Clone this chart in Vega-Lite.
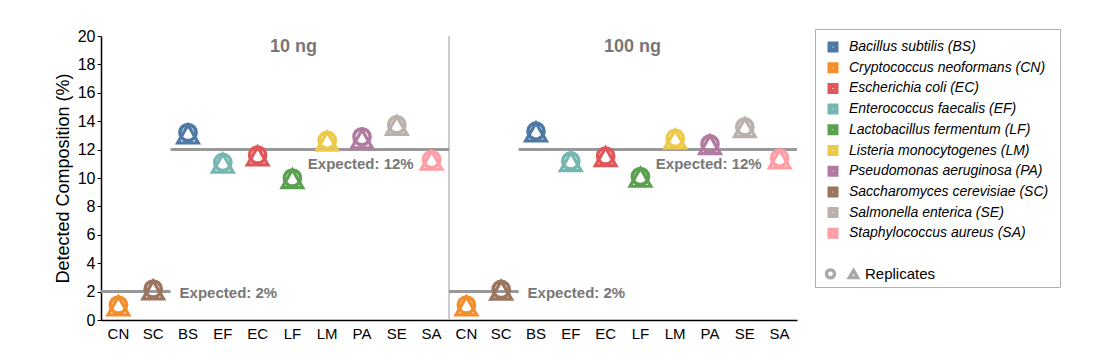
{
  "$schema": "https://vega.github.io/schema/vega-lite/v6.json",
  "autosize": "none",
  "width": 696,
  "height": 284,
  "padding": {"left": 101, "top": 36, "right": 315, "bottom": 40},
  "config": {
    "font": "Liberation Sans",
    "view": {"stroke": null}
  },
  "datasets": {
    "pts": [
      {"key": "10 ng|CN", "rep": "A", "value": 1.05, "species": "Cryptococcus neoformans (CN)"},
      {"key": "10 ng|CN", "rep": "B", "value": 1.0, "species": "Cryptococcus neoformans (CN)"},
      {"key": "10 ng|SC", "rep": "A", "value": 2.18, "species": "Saccharomyces cerevisiae (SC)"},
      {"key": "10 ng|SC", "rep": "B", "value": 2.12, "species": "Saccharomyces cerevisiae (SC)"},
      {"key": "10 ng|BS", "rep": "A", "value": 13.2, "species": "Bacillus subtilis (BS)"},
      {"key": "10 ng|BS", "rep": "B", "value": 13.1, "species": "Bacillus subtilis (BS)"},
      {"key": "10 ng|EF", "rep": "A", "value": 11.1, "species": "Enterococcus faecalis (EF)"},
      {"key": "10 ng|EF", "rep": "B", "value": 11.05, "species": "Enterococcus faecalis (EF)"},
      {"key": "10 ng|EC", "rep": "A", "value": 11.62, "species": "Escherichia coli (EC)"},
      {"key": "10 ng|EC", "rep": "B", "value": 11.55, "species": "Escherichia coli (EC)"},
      {"key": "10 ng|LF", "rep": "A", "value": 10.0, "species": "Lactobacillus fermentum (LF)"},
      {"key": "10 ng|LF", "rep": "B", "value": 9.95, "species": "Lactobacillus fermentum (LF)"},
      {"key": "10 ng|LM", "rep": "A", "value": 12.65, "species": "Listeria monocytogenes (LM)"},
      {"key": "10 ng|LM", "rep": "B", "value": 12.6, "species": "Listeria monocytogenes (LM)"},
      {"key": "10 ng|PA", "rep": "A", "value": 12.9, "species": "Pseudomonas aeruginosa (PA)"},
      {"key": "10 ng|PA", "rep": "B", "value": 12.75, "species": "Pseudomonas aeruginosa (PA)"},
      {"key": "10 ng|SE", "rep": "A", "value": 13.75, "species": "Salmonella enterica (SE)"},
      {"key": "10 ng|SE", "rep": "B", "value": 13.7, "species": "Salmonella enterica (SE)"},
      {"key": "10 ng|SA", "rep": "A", "value": 11.3, "species": "Staphylococcus aureus (SA)"},
      {"key": "10 ng|SA", "rep": "B", "value": 11.25, "species": "Staphylococcus aureus (SA)"},
      {"key": "100 ng|CN", "rep": "A", "value": 1.05, "species": "Cryptococcus neoformans (CN)"},
      {"key": "100 ng|CN", "rep": "B", "value": 1.0, "species": "Cryptococcus neoformans (CN)"},
      {"key": "100 ng|SC", "rep": "A", "value": 2.15, "species": "Saccharomyces cerevisiae (SC)"},
      {"key": "100 ng|SC", "rep": "B", "value": 2.1, "species": "Saccharomyces cerevisiae (SC)"},
      {"key": "100 ng|BS", "rep": "A", "value": 13.3, "species": "Bacillus subtilis (BS)"},
      {"key": "100 ng|BS", "rep": "B", "value": 13.25, "species": "Bacillus subtilis (BS)"},
      {"key": "100 ng|EF", "rep": "A", "value": 11.2, "species": "Enterococcus faecalis (EF)"},
      {"key": "100 ng|EF", "rep": "B", "value": 11.15, "species": "Enterococcus faecalis (EF)"},
      {"key": "100 ng|EC", "rep": "A", "value": 11.55, "species": "Escherichia coli (EC)"},
      {"key": "100 ng|EC", "rep": "B", "value": 11.5, "species": "Escherichia coli (EC)"},
      {"key": "100 ng|LF", "rep": "A", "value": 10.1, "species": "Lactobacillus fermentum (LF)"},
      {"key": "100 ng|LF", "rep": "B", "value": 10.05, "species": "Lactobacillus fermentum (LF)"},
      {"key": "100 ng|LM", "rep": "A", "value": 12.8, "species": "Listeria monocytogenes (LM)"},
      {"key": "100 ng|LM", "rep": "B", "value": 12.75, "species": "Listeria monocytogenes (LM)"},
      {"key": "100 ng|PA", "rep": "A", "value": 12.4, "species": "Pseudomonas aeruginosa (PA)"},
      {"key": "100 ng|PA", "rep": "B", "value": 12.35, "species": "Pseudomonas aeruginosa (PA)"},
      {"key": "100 ng|SE", "rep": "A", "value": 13.6, "species": "Salmonella enterica (SE)"},
      {"key": "100 ng|SE", "rep": "B", "value": 13.55, "species": "Salmonella enterica (SE)"},
      {"key": "100 ng|SA", "rep": "A", "value": 11.4, "species": "Staphylococcus aureus (SA)"},
      {"key": "100 ng|SA", "rep": "B", "value": 11.35, "species": "Staphylococcus aureus (SA)"}
    ]
  },
  "encoding": {
    "x": {
      "field": "key",
      "type": "nominal",
      "scale": {
        "type": "band",
        "paddingInner": 0,
        "paddingOuter": 0,
        "domain": ["10 ng|CN", "10 ng|SC", "10 ng|BS", "10 ng|EF", "10 ng|EC", "10 ng|LF", "10 ng|LM", "10 ng|PA", "10 ng|SE", "10 ng|SA",
                   "100 ng|CN", "100 ng|SC", "100 ng|BS", "100 ng|EF", "100 ng|EC", "100 ng|LF", "100 ng|LM", "100 ng|PA", "100 ng|SE", "100 ng|SA"]
      },
      "axis": {
        "title": null,
        "labelExpr": "split(datum.value, '|')[1]",
        "labelAngle": 0,
        "ticks": false,
        "labelPadding": 6,
        "labelFontSize": 15,
        "labelColor": "#000",
        "domainColor": "#000",
        "domainWidth": 1.5,
        "grid": false
      }
    },
    "y": {
      "field": "value",
      "type": "quantitative",
      "scale": {"domain": [0, 20], "nice": false},
      "axis": {
        "title": "Detected Composition (%)",
        "values": [0, 2, 4, 6, 8, 10, 12, 14, 16, 18, 20],
        "labelOverlap": false,
        "titleFontSize": 18,
        "titleFontWeight": "normal",
        "titleColor": "#000",
        "titlePadding": 5,
        "labelFontSize": 16,
        "labelColor": "#000",
        "labelPadding": 2,
        "tickSize": 4,
        "tickColor": "#000",
        "domainColor": "#000",
        "domainWidth": 1.5,
        "grid": false
      }
    }
  },
  "layer": [
    {
      "data": {"values": [{"key": "100 ng|CN", "value": 0}]},
      "mark": {"type": "rule", "color": "#bdbdbd", "strokeWidth": 1.5},
      "encoding": {
        "x": {"field": "key", "type": "nominal", "bandPosition": 0},
        "y2": {"datum": 20}
      }
    },
    {
      "data": {"values": [
        {"key": "10 ng|BS", "to": "10 ng|SA", "value": 12},
        {"key": "10 ng|CN", "to": "10 ng|SC", "value": 2},
        {"key": "100 ng|BS", "to": "100 ng|SA", "value": 12},
        {"key": "100 ng|CN", "to": "100 ng|SC", "value": 2}
      ]},
      "mark": {"type": "rule", "color": "#999", "strokeWidth": 3},
      "encoding": {
        "x": {"field": "key", "type": "nominal", "bandPosition": 0},
        "x2": {"field": "to", "bandPosition": 1}
      }
    },
    {
      "data": {"name": "pts"},
      "transform": [{"filter": "datum.rep === 'A'"}],
      "mark": {"type": "point", "filled": false, "strokeWidth": 3.6, "size": 260, "opacity": 1},
      "encoding": {
        "color": {
          "field": "species",
          "type": "nominal",
          "scale": {
            "domain": ["Bacillus subtilis (BS)", "Cryptococcus neoformans (CN)", "Escherichia coli (EC)", "Enterococcus faecalis (EF)", "Lactobacillus fermentum (LF)", "Listeria monocytogenes (LM)", "Pseudomonas aeruginosa (PA)", "Saccharomyces cerevisiae (SC)", "Salmonella enterica (SE)", "Staphylococcus aureus (SA)"],
            "range": ["#4e79a7", "#f28e2b", "#e15759", "#76b7b2", "#59a14f", "#edc948", "#b07aa1", "#9c755f", "#bab0ac", "#ff9da7"]
          },
          "legend": {
            "orient": "none",
            "legendX": 714,
            "legendY": -7,
            "title": " ",
            "titleOrient": "bottom",
            "titlePadding": 16,
            "titleFontSize": 14,
            "strokeColor": "#b0b0b0",
            "padding": 11,
            "symbolType": "square",
            "symbolSize": 36,
            "symbolStrokeWidth": 5,
            "labelFontStyle": "italic",
            "labelFontSize": 14,
            "labelColor": "#000",
            "labelLimit": 400,
            "labelOffset": 9,
            "rowPadding": -5.3
          }
        },
        "shape": {
          "field": "rep",
          "type": "nominal",
          "scale": {"domain": ["A", "B"], "range": ["circle", "triangle-up"]},
          "legend": {
            "orient": "none",
            "legendX": 722,
            "legendY": 230,
            "direction": "horizontal",
            "title": null,
            "labelExpr": "datum.value === 'B' ? 'Replicates' : ''",
            "labelFontSize": 15,
            "labelColor": "#000",
            "labelOffset": 4,
            "columnPadding": 0,
            "symbolSize": 64,
            "symbolStrokeColor": "#a8a8a8",
            "symbolStrokeWidth": 3.4
          }
        }
      }
    },
    {
      "data": {"name": "pts"},
      "transform": [{"filter": "datum.rep === 'B'"}],
      "mark": {"type": "point", "filled": false, "strokeWidth": 3.2, "size": 430, "opacity": 1},
      "encoding": {
        "color": {"field": "species", "type": "nominal"},
        "shape": {"field": "rep", "type": "nominal"}
      }
    },
    {
      "data": {"values": [{"key": "10 ng|LF", "label": "10 ng", "value": 19.2}]},
      "mark": {"type": "text", "fontSize": 18, "fontWeight": "bold", "color": "#777", "baseline": "middle", "align": "center", "dx": 1},
      "encoding": {
        "text": {"field": "label"}
      }
    },
    {
      "data": {"values": [{"key": "100 ng|LF", "label": "100 ng", "value": 19.2}]},
      "mark": {"type": "text", "fontSize": 18, "fontWeight": "bold", "color": "#777", "baseline": "middle", "align": "center", "dx": -8},
      "encoding": {
        "text": {"field": "label"}
      }
    },
    {
      "data": {"values": [
        {"key": "10 ng|LF", "label": "Expected: 12%", "value": 11.0},
        {"key": "100 ng|LF", "label": "Expected: 12%", "value": 11.0}
      ]},
      "mark": {"type": "text", "fontSize": 15, "fontWeight": "bold", "color": "#777", "baseline": "middle", "align": "left", "dx": -2},
      "encoding": {
        "x": {"field": "key", "type": "nominal", "bandPosition": 1},
        "text": {"field": "label"}
      }
    },
    {
      "data": {"values": [
        {"key": "10 ng|BS", "label": "Expected: 2%", "value": 1.9},
        {"key": "100 ng|BS", "label": "Expected: 2%", "value": 1.9}
      ]},
      "mark": {"type": "text", "fontSize": 15, "fontWeight": "bold", "color": "#777", "baseline": "middle", "align": "left", "dx": 9},
      "encoding": {
        "x": {"field": "key", "type": "nominal", "bandPosition": 0},
        "text": {"field": "label"}
      }
    }
  ]
}
